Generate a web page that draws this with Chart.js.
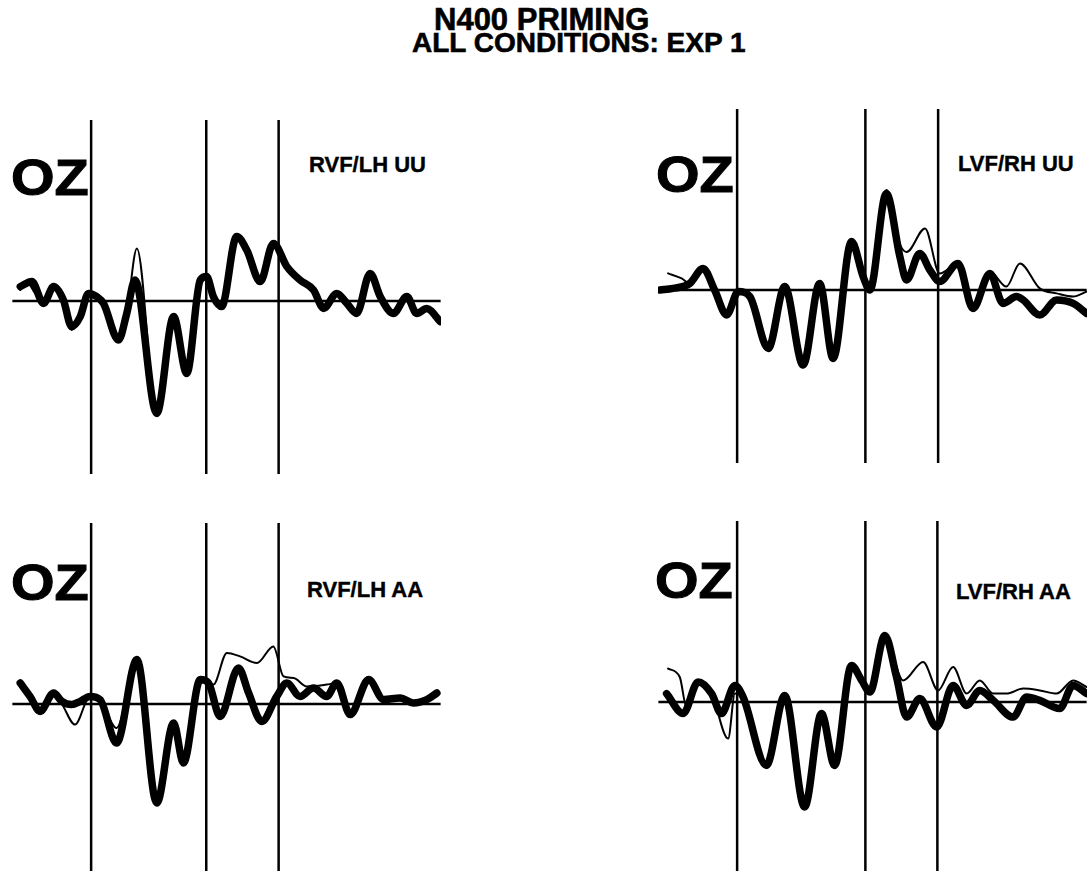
<!DOCTYPE html>
<html>
<head>
<meta charset="utf-8">
<script src="https://cdn.jsdelivr.net/npm/chart.js@4/dist/chart.umd.min.js"></script>
<style>
	body { margin: 0; background: #fff; width: 1087px; height: 871px; overflow: hidden; position: relative; }
	canvas { position: absolute; }
	.txt { position: absolute; font-family: "Liberation Sans", Arial, sans-serif; font-weight: bold; color: #000; white-space: nowrap; -webkit-text-stroke: 0.6px #000; }
	.oz { font-size: 50px; line-height: 50px; transform: scaleX(1.12); transform-origin: left top; -webkit-text-stroke: 1px #000; }
	.cond { font-size: 22px; line-height: 22px; -webkit-text-stroke: 0.4px #000; }
</style>
</head>
<body>

<div class="txt" style="left:434px; top:4px; font-size:31px; line-height:31px;">N400 PRIMING</div>
<div class="txt" style="left:412px; top:29px; font-size:28px; line-height:28px;">ALL CONDITIONS: EXP 1</div>

<div class="txt oz" style="left:11px; top:153px;">OZ</div>
<div class="txt oz" style="left:656px; top:150px;">OZ</div>
<div class="txt oz" style="left:11px; top:558px;">OZ</div>
<div class="txt oz" style="left:655px; top:556px;">OZ</div>

<div class="txt cond" style="left:309px; top:154px;">RVF/LH UU</div>
<div class="txt cond" style="left:958px; top:153px;">LVF/RH UU</div>
<div class="txt cond" style="left:307px; top:579px;">RVF/LH AA</div>
<div class="txt cond" style="left:956px; top:581px;">LVF/RH AA</div>

<canvas id="rvfUU" width="429" height="375" style="left:12px; top:110px;"></canvas>
<canvas id="lvfUU" width="429" height="375" style="left:658px; top:99px;"></canvas>
<canvas id="rvfAA" width="429" height="375" style="left:12px; top:513px;"></canvas>
<canvas id="lvfAA" width="429" height="375" style="left:658px; top:511px;"></canvas>

<script>
// time in ms, amplitude in uV
const epoch = [-210, 932]
const markerSpan = [9.05, -8.65]

// RVF/LH UU
const rvfUUThickT = [-189,-158,-127,-100,-74,-52,-29,-7,15,33,73,95,117,175,220,255,291,308,326,348,388,415,451,486,522,557,593,620,655,682,708,744,771,806,842,868,895,931]
const rvfUUThickV = [0.72,0.97,-0.12,0.72,0.05,-1.28,-0.78,0.38,0.22,-0.12,-1.95,-0.62,1.05,-5.62,-0.78,-3.62,1.05,1.22,0.22,-0.28,3.22,2.55,0.97,2.88,1.72,1.05,0.55,-0.37,0.38,-0.12,-0.62,1.38,0.22,-0.62,0.22,-0.62,-0.37,-1.03]
const rvfUUThinT = [-189,-170,-150,-127,-100,-74,-52,-29,-7,15,33,73,95,122,175,220,255,291,308,326,348,388,415,451,486,522,557,593,620,655,682,708,744,771,806,842,868,895,931]
const rvfUUThinV = [0.55,0.9,0.4,-0.25,0.72,0.05,-1.45,-0.78,0.38,0.22,-0.12,-1.8,-0.62,2.63,-5.62,-0.78,-3.62,1.05,1.22,0.22,-0.28,3.22,2.55,0.97,2.88,1.72,1.05,0.55,-0.37,0.38,-0.12,-0.62,1.38,0.22,-0.62,0.22,-0.62,-0.37,-1.03]
const rvfUUMarkers = [0, 307, 500]

// LVF/RH UU
const lvfUUThickT = [-206,-171,-126,-91,-60,-28,3,34,83,127,176,220,256,305,336,354,398,434,452,487,514,540,589,629,674,709,745,763,807,852,896,932]
const lvfUUThickV = [0,0.08,0.33,1.08,0,-1.25,-0.08,-0.33,-2.92,0.17,-3.75,0.33,-3.42,2.42,0.67,0,4.83,1.67,0.5,1.83,1.0,0.42,1.33,-0.92,0.83,-0.67,-0.33,-0.5,-1.25,-0.5,-0.67,-1.17]
const lvfUUThinT = [-184,-148,-126,-91,-60,-28,3,34,83,127,176,220,256,305,336,354,398,434,452,501,540,589,629,674,718,754,807,852,896,932]
const lvfUUThinV = [0.83,0.58,0.33,1.08,0,-1.25,-0.08,-0.33,-2.92,0.17,-3.75,0.33,-3.42,2.42,0.67,0,5.0,2.3,1.9,3.08,0.83,1.33,-0.92,0.92,0.17,1.33,0.08,-0.17,-0.33,-0.08]
const lvfUUMarkers = [0, 342, 536]

// RVF/LH AA
const rvfAAThickT = [-189,-163,-136,-100,-78,-52,-29,-3,24,68,122,175,220,246,291,313,344,393,420,455,495,522,557,593,628,655,691,740,780,824,860,895,922]
const rvfAAThickV = [1.05,0.38,-0.37,0.55,0.13,-0.03,0.13,0.38,0.22,-1.95,2.22,-4.95,-0.95,-2.95,1.22,1.05,-0.62,1.8,0.55,-0.87,0.38,1.05,0.38,0.8,0.38,1.05,-0.53,1.22,0.22,0.3,0.05,0.22,0.55]
const rvfAAThinT = [-189,-163,-136,-100,-78,-43,-3,24,68,122,175,220,246,291,313,326,362,397,442,486,513,540,575,628,655,691,740,780,824,860,895,922]
const rvfAAThinV = [1.05,0.38,-0.2,0.55,0.0,-1.03,0.38,0.22,-1.2,2.22,-4.95,-0.95,-2.95,1.22,1.05,0.97,2.55,2.38,2.05,2.88,1.38,1.3,0.88,0.97,1.05,-0.53,1.22,0.22,0.3,0.05,0.22,0.55]
const rvfAAMarkers = [0, 307, 500]

// LVF/RH AA
const lvfAAThickT = [-188,-144,-104,-68,-42,-6,16,78,127,180,225,260,305,332,354,394,425,452,487,532,576,612,647,683,736,772,807,860,896,932]
const lvfAAThickV = [0.42,-0.58,1.0,0.42,-0.58,0.83,0.25,-3.17,0.33,-5.25,-0.58,-3.17,1.83,1.08,0.5,3.33,1.25,-0.75,0.17,-1.25,0.83,-0.17,0.58,0.08,-0.75,0.25,0.08,-0.33,0.83,0.42]
const lvfAAThinT = [-184,-153,-135,-104,-68,-24,-6,16,78,127,180,225,260,305,332,354,394,443,496,536,576,612,647,683,718,763,807,852,896,932]
const lvfAAThinV = [1.67,1.25,-0.25,0.92,0.42,-1.83,0.42,0.25,-3.17,0.33,-5.25,-0.58,-3.17,1.83,1.08,0.5,3.33,1.08,2.0,0.58,1.75,0.42,1.08,0.42,0.42,0.67,0.58,0.42,1.08,0.75]
const lvfAAMarkers = [0, 342, 534]

function pts(t, v){
	return t.map((x, i) => ({x: x, y: v[i]}))
}

function makePanel(id, thickT, thickV, thinT, thinV, markers){
	let datasets = [
		{
			label: 'thin',
			data: pts(thinT, thinV),
			borderColor: '#000',
			borderWidth: 2,
			cubicInterpolationMode: 'monotone',
			borderJoinStyle: 'round',
			borderCapStyle: 'round'
		},
		{
			label: 'thick',
			data: pts(thickT, thickV),
			borderColor: '#000',
			borderWidth: 7.5,
			cubicInterpolationMode: 'monotone',
			borderJoinStyle: 'round',
			borderCapStyle: 'round'
		},
		{
			label: 'baseline',
			data: pts(epoch, [0, 0]),
			borderColor: '#000',
			borderWidth: 2.5,
			tension: 0
		}
	]

	markers.forEach(m => {
		datasets.push({
			label: 'marker ' + m,
			data: pts([m, m], markerSpan),
			borderColor: '#000',
			borderWidth: 2.5,
			tension: 0
		})
	})

	new Chart(
		document.getElementById(id),
		{
			type: 'line',
			data: { datasets: datasets },
			options: {
				responsive: false,
				animation: false,
				devicePixelRatio: 1,
				layout: { padding: 0 },
				elements: { point: { radius: 0 } },
				scales: {
					x: { type: 'linear', min: -211, max: 933, display: false },
					y: { min: -9.2, max: 9.55, display: false }
				},
				plugins: {
					legend: { display: false },
					tooltip: { enabled: false }
				}
			}
		}
	)
}

makePanel('rvfUU', rvfUUThickT, rvfUUThickV, rvfUUThinT, rvfUUThinV, rvfUUMarkers)
makePanel('lvfUU', lvfUUThickT, lvfUUThickV, lvfUUThinT, lvfUUThinV, lvfUUMarkers)
makePanel('rvfAA', rvfAAThickT, rvfAAThickV, rvfAAThinT, rvfAAThinV, rvfAAMarkers)
makePanel('lvfAA', lvfAAThickT, lvfAAThickV, lvfAAThinT, lvfAAThinV, lvfAAMarkers)
</script>
</body>
</html>
